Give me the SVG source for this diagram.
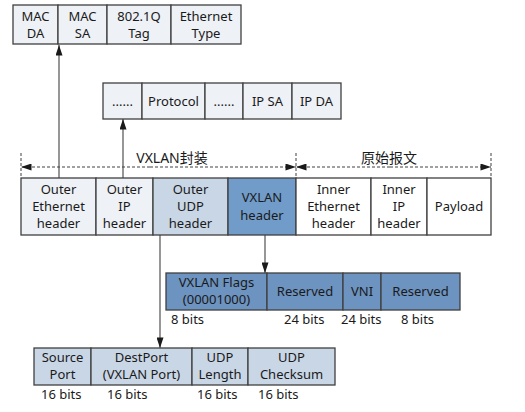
<svg xmlns="http://www.w3.org/2000/svg" width="525" height="412" viewBox="0 0 525 412">
<style>
text{font-family:"Noto Sans","Open Sans","Noto Sans CJK SC",sans-serif;font-size:13px;fill:#1a1a1a;text-anchor:middle}
.l{text-anchor:start}
.c{font-size:14px}
.b{stroke:#404040;stroke-width:1.3}
.lt{fill:#eef1f6}
.md{fill:#c9d6e6}
.dk{fill:#719cc9}
.dk2{fill:#6d93c0}
.wh{fill:#ffffff}
.ln{stroke:#404040;stroke-width:1.1;fill:none}
.ds{stroke:#404040;stroke-width:1;stroke-dasharray:3,2;fill:none}
</style>
<defs>
<marker id="ah" viewBox="0 0 12 8" refX="12" refY="4" markerWidth="11" markerHeight="7" markerUnits="userSpaceOnUse" orient="auto">
<path d="M0,0 L12,4 L0,8 Z" fill="#1a1a1a"/>
</marker>
</defs>
<g id="connectors">
<line class="ln" x1="59" y1="178" x2="59" y2="45" marker-end="url(#ah)"/>
<line class="ln" x1="123" y1="178" x2="123" y2="119" marker-end="url(#ah)"/>
<line class="ln" x1="265" y1="235" x2="265" y2="273" marker-end="url(#ah)"/>
<line class="ln" x1="160" y1="235" x2="160" y2="348" marker-end="url(#ah)"/>
<line class="ds" x1="21" y1="153" x2="21" y2="178"/>
<line class="ds" x1="296" y1="153" x2="296" y2="178"/>
<line class="ds" x1="491" y1="153" x2="491" y2="178"/>
<line class="ds" x1="150" y1="167" x2="21" y2="167" marker-end="url(#ah)"/>
<line class="ds" x1="150" y1="167" x2="296" y2="167" marker-end="url(#ah)"/>
<line class="ds" x1="390" y1="167" x2="296" y2="167" marker-end="url(#ah)"/>
<line class="ds" x1="390" y1="167" x2="491" y2="167" marker-end="url(#ah)"/>
</g>
<g id="label-vxlan"><text class="c" x="172" y="163">VXLAN封装</text></g>
<g id="label-orig"><text class="c" x="389" y="163">原始报文</text></g>
<g id="eth-header">
<rect class="b lt" x="13" y="5" width="45" height="39"/>
<rect class="b lt" x="58" y="5" width="49" height="39"/>
<rect class="b lt" x="107" y="5" width="64" height="39"/>
<rect class="b lt" x="171" y="5" width="70" height="39"/>
<text x="35.5" y="21">MAC</text><text x="35.5" y="38">DA</text>
<text x="82.5" y="21">MAC</text><text x="82.5" y="38">SA</text>
<text x="139" y="21">802.1Q</text><text x="139" y="38">Tag</text>
<text x="206" y="21">Ethernet</text><text x="206" y="38">Type</text>
</g>
<g id="ip-header">
<rect class="b lt" x="103" y="83" width="39" height="36"/>
<rect class="b lt" x="142" y="83" width="63" height="36"/>
<rect class="b lt" x="205" y="83" width="38" height="36"/>
<rect class="b lt" x="243" y="83" width="49" height="36"/>
<rect class="b lt" x="292" y="83" width="49" height="36"/>
<text x="122.5" y="106">......</text>
<text x="173.5" y="106">Protocol</text>
<text x="224" y="106">......</text>
<text x="267.5" y="106">IP SA</text>
<text x="316.5" y="106">IP DA</text>
</g>
<g id="packet">
<rect class="b lt" x="21" y="178" width="75" height="57"/>
<rect class="b lt" x="96" y="178" width="57" height="57"/>
<rect class="b md" x="153" y="178" width="75" height="57"/>
<rect class="b dk" x="228" y="178" width="68" height="57"/>
<rect class="b wh" x="296" y="178" width="75" height="57"/>
<rect class="b wh" x="371" y="178" width="56" height="57"/>
<rect class="b wh" x="427" y="178" width="64" height="57"/>
<text x="58.5" y="194">Outer</text><text x="58.5" y="211">Ethernet</text><text x="58.5" y="228">header</text>
<text x="124.5" y="194">Outer</text><text x="124.5" y="211">IP</text><text x="124.5" y="228">header</text>
<text x="190.5" y="194">Outer</text><text x="190.5" y="211">UDP</text><text x="190.5" y="228">header</text>
<text x="262" y="202">VXLAN</text><text x="262" y="220">header</text>
<text x="333.5" y="194">Inner</text><text x="333.5" y="211">Ethernet</text><text x="333.5" y="228">header</text>
<text x="399" y="194">Inner</text><text x="399" y="211">IP</text><text x="399" y="228">header</text>
<text x="459" y="211">Payload</text>
</g>
<g id="vxlan-header">
<rect class="b dk2" x="166" y="273" width="101" height="37"/>
<rect class="b dk2" x="267" y="273" width="76" height="37"/>
<rect class="b dk2" x="343" y="273" width="38" height="37"/>
<rect class="b dk2" x="381" y="273" width="79" height="37"/>
<text x="216.5" y="287">VXLAN Flags</text><text x="216.5" y="304">(00001000)</text>
<text x="305" y="296">Reserved</text>
<text x="362" y="296">VNI</text>
<text x="420.5" y="296">Reserved</text>
<text class="l" x="171" y="324">8 bits</text>
<text class="l" x="284" y="324">24 bits</text>
<text class="l" x="341" y="324">24 bits</text>
<text class="l" x="401" y="324">8 bits</text>
</g>
<g id="udp-header">
<rect class="b md" x="34" y="348" width="57" height="37"/>
<rect class="b md" x="91" y="348" width="101" height="37"/>
<rect class="b md" x="192" y="348" width="56" height="37"/>
<rect class="b md" x="248" y="348" width="87" height="37"/>
<text x="62.5" y="362">Source</text><text x="62.5" y="379">Port</text>
<text x="141.5" y="362">DestPort</text><text x="141.5" y="379">(VXLAN Port)</text>
<text x="220" y="362">UDP</text><text x="220" y="379">Length</text>
<text x="291.5" y="362">UDP</text><text x="291.5" y="379">Checksum</text>
<text class="l" x="41" y="399">16 bits</text>
<text class="l" x="107" y="399">16 bits</text>
<text class="l" x="197" y="399">16 bits</text>
<text class="l" x="258" y="399">16 bits</text>
</g>
</svg>
